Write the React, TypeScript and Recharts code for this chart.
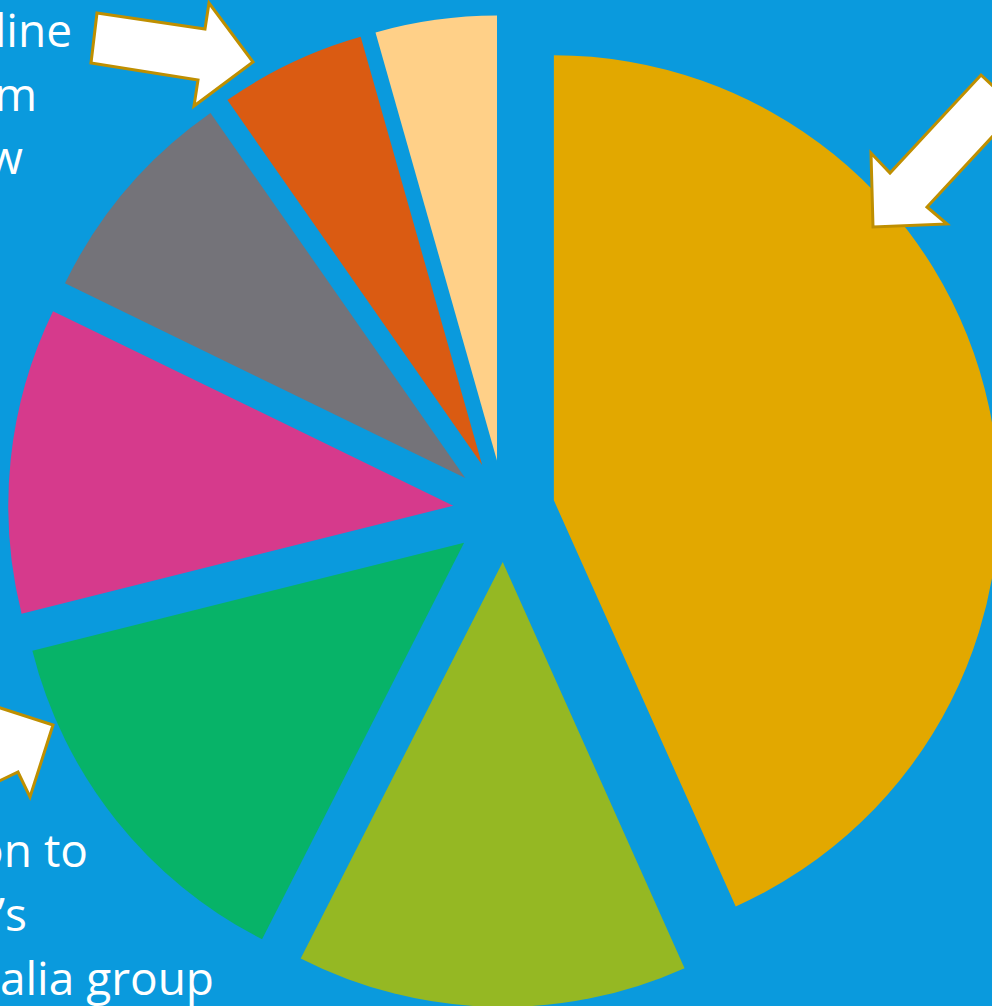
import { PieChart, Pie, Cell, Sector } from "recharts";

const categories = ["Segment A", "Segment B", "Segment C", "Segment D", "Segment E", "Segment F", "Segment G"];
const shares = [43.3, 14.2, 13.6, 11.1, 8.1, 5.3, 4.4];
const colors = ["#E2A800", "#95B823", "#07B368", "#D63A8C", "#747379", "#DA5B12", "#FFD088"];

const topLines = ["line", "m", "w"];
const bottomLines = ["on to", "\u2019s", "alia group"];

const data = categories.map((name, i) => ({ name, value: shares[i] }));

const BG = "#0A9ADD";
const OUTLINE = "#BF8F00";
const EXPLODE = 51;
const RAD = Math.PI / 180;

// pull each slice outward along its mid angle
const ExplodedSector = (props: any) => {
  const { cx, cy, midAngle } = props;
  const dx = EXPLODE * Math.cos(-midAngle * RAD);
  const dy = EXPLODE * Math.sin(-midAngle * RAD);
  return <Sector {...props} cx={cx + dx} cy={cy + dy} stroke="none" />;
};

export default function App() {
  return (
    <div
      style={{
        position: "absolute",
        left: 0,
        top: 0,
        width: 992,
        height: 1006,
        background: BG,
        overflow: "hidden",
      }}
    >
      <PieChart width={992} height={1006} margin={{ top: 0, right: 0, bottom: 0, left: 0 }}>
        <Pie
          data={data}
          dataKey="value"
          nameKey="name"
          cx={504}
          cy={511}
          outerRadius={445}
          startAngle={90}
          endAngle={-270}
          stroke="none"
          shape={ExplodedSector}
          isAnimationActive={false}
        >
          {data.map((d, i) => (
            <Cell key={d.name} fill={colors[i]} />
          ))}
        </Pie>
      </PieChart>

      <svg
        width={992}
        height={1006}
        style={{ position: "absolute", left: 0, top: 0, pointerEvents: "none" }}
      >
        <polygon
          points="97,13 205,29 209,3 253,62 194,106 198,80 91,63"
          fill="#FFFFFF"
          stroke={OUTLINE}
          strokeWidth={3}
        />
        <polygon
          points="873,227 871,153 890,173 981,75 1018,109 927,207 947,224"
          fill="#FFFFFF"
          stroke={OUTLINE}
          strokeWidth={3}
        />
        <polygon
          points="-40,695 53,725 30,797 18,772 -40,800"
          fill="#FFFFFF"
          stroke={OUTLINE}
          strokeWidth={3}
        />
        <g fill="#FFFFFF" fontFamily="'Open Sans', sans-serif" fontSize={46} textAnchor="end">
          <text x={72} y={47}>{topLines[0]}</text>
          <text x={37} y={111}>{topLines[1]}</text>
          <text x={23} y={174}>{topLines[2]}</text>
          <text x={88} y={867}>{bottomLines[0]}</text>
          <text x={27} y={931}>{bottomLines[1]}</text>
          <text x={214} y={995}>{bottomLines[2]}</text>
        </g>
      </svg>
    </div>
  );
}
